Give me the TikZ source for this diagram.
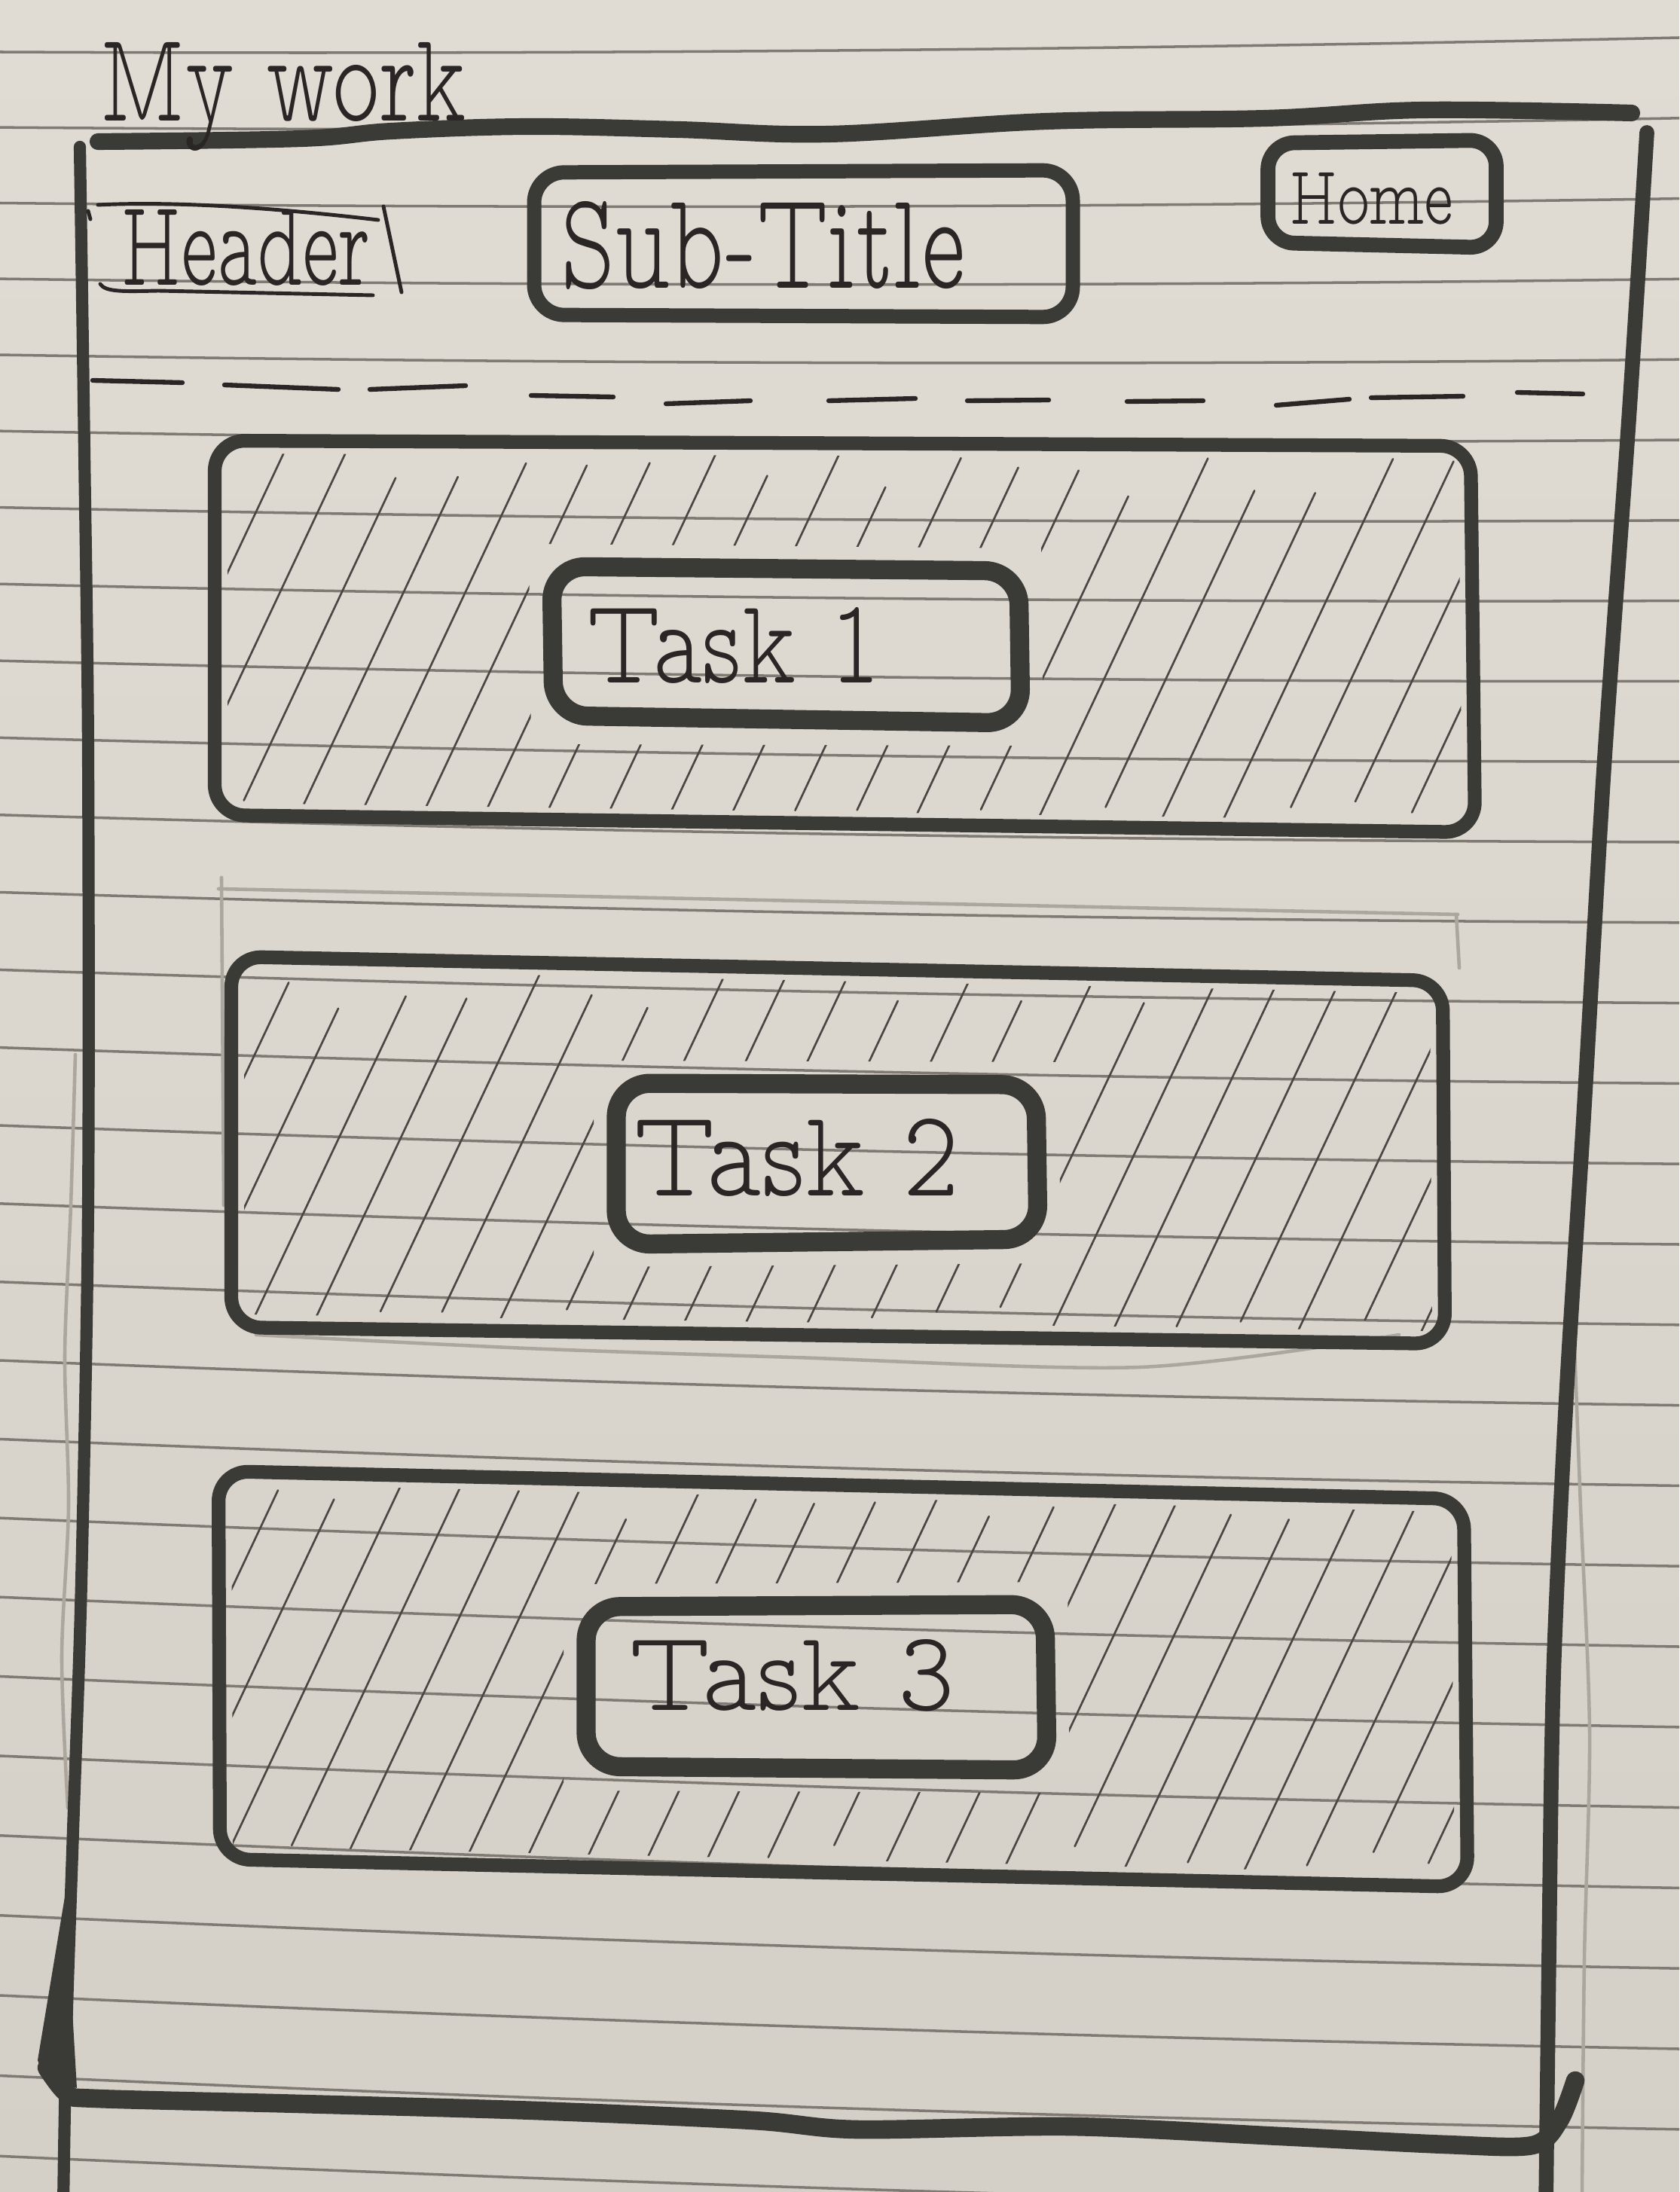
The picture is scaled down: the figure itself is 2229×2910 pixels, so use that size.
\documentclass[tikz,border=0pt]{standalone}
\usepackage{fontspec}
\usepackage{graphicx}
\newfontfamily\hand[Extension=.otf]{lmmonoproplt10-regular}
\definecolor{paperTop}{HTML}{E0DCD4}
\definecolor{paperBot}{HTML}{D5D0C7}
\definecolor{ruledc}{HTML}{7F7A74}
\definecolor{ink}{HTML}{3A3A36}
\definecolor{hatchc}{HTML}{4A4643}
\definecolor{textc}{HTML}{2B2626}
\definecolor{pencilc}{HTML}{ABA69E}
\tikzset{
  pen/.style={draw=ink, line width=5.2pt, line cap=round, line join=round},
  innerpen/.style={draw=ink, line width=7.2pt, line cap=round, line join=round},
  thinpen/.style={draw=textc, line width=1.4pt, line cap=round},
  dashpen/.style={draw=textc, line width=1.8pt, line cap=round},
  hatch/.style={draw=hatchc, line width=0.75pt, line cap=round},
  ruled/.style={draw=ruledc, line width=1pt},
  pencil/.style={draw=pencilc, line width=1.3pt, line cap=round},
  txt/.style={font=\hand, text=textc, inner sep=0pt, anchor=base west}
}
\begin{document}
\begin{tikzpicture}[x=0.01cm,y=-0.01cm]
\pgfmathsetseed{7}
\useasboundingbox (0,0) rectangle (2229,2910);
\shade[top color=paperTop, bottom color=paperBot] (0,0) rectangle (2229,2910);

% ruled lines of the notebook paper
\foreach \k in {0,...,27}{
  \pgfmathsetmacro\yl{69+100*\k+0.128*\k*\k}
  \pgfmathsetmacro\yr{50+106.8*\k}
  \pgfmathsetmacro\ya{\yl*2/3+\yr/3+10}
  \pgfmathsetmacro\yb{\yl/3+\yr*2/3+10}
  \draw[ruled] (0,\yl) .. controls (743,\ya) and (1486,\yb) .. (2229,\yr);
}

% faint pencil guides
\draw[pencil] plot[smooth] coordinates {(100,1400) (94,1600) (86,1800) (91,2000) (82,2200) (90,2400)};
\draw[pencil] plot[smooth] coordinates {(2089,1763) (2098,2000) (2110,2300) (2103,2600) (2100,2910)};
\draw[pencil] (294,1165) -- (297,1600);
\draw[pencil] (290,1180) -- (1935,1214);
\draw[pencil] (1933,1214) -- (1937,1285);
\draw[pencil] plot[smooth] coordinates {(340,1772) (700,1790) (1054,1802) (1513,1815) (1857,1772)};

% hatching, task 1
\begin{scope}
\clip (302,602) -- (1936,608) -- (1941,1090) -- (302,1066) -- cycle
      (702,722) -- (705,988) -- (1385,990) -- (1382,728) -- cycle;
\foreach \i in {0,...,26}{
  \pgfmathsetmacro\sa{rnd*70}
  \pgfmathsetmacro\sb{rnd*70}
  \draw[hatch] ({300+\i*82-0.47*\sa},{590+\sa}) -- ({46+\i*82+0.47*\sb},{1130-\sb});
}
\end{scope}
% hatching, task 2
\begin{scope}
\clip (324,1287) -- (1898,1318) -- (1901,1767) -- (324,1745) -- cycle
      (788,1408) -- (788,1682) -- (1408,1677) -- (1405,1410) -- cycle;
\foreach \i in {0,...,26}{
  \pgfmathsetmacro\sa{rnd*70}
  \pgfmathsetmacro\sb{rnd*70}
  \draw[hatch] ({315+\i*82-0.47*\sa},{1275+\sa}) -- ({65+\i*82+0.47*\sb},{1805-\sb});
}
\end{scope}
% hatching, task 3
\begin{scope}
\clip (307,1970) -- (1926,2007) -- (1931,2488) -- (309,2451) -- cycle
      (748,2103) -- (748,2377) -- (1420,2380) -- (1417,2100) -- cycle;
\foreach \i in {0,...,27}{
  \pgfmathsetmacro\sa{rnd*70}
  \pgfmathsetmacro\sb{rnd*70}
  \draw[hatch] ({300+\i*80-0.47*\sa},{1955+\sa}) -- ({38+\i*80+0.47*\sb},{2512-\sb});
}
\end{scope}

% outer frame
\draw[pen, line width=6.3pt] plot[smooth, tension=0.6] coordinates {(130,188) (400,184) (520,174) (700,168) (900,172) (1100,178) (1390,161) (1680,157) (1890,146) (2166,150)};
\draw[pen, line width=4.6pt] plot[smooth] coordinates {(106,195) (112,600) (117,1000) (117,1600) (108,2100) (97,2430) (88,2700) (84,2930)};
\fill[ink] (104,2410) -- (50,2735) -- (60,2762) -- (102,2772) -- (92,2600) -- cycle;
\draw[pen, line width=7pt] plot[smooth] coordinates {(62,2745) (90,2780) (130,2786) (400,2793) (711,2802) (1000,2815) (1138,2827) (1422,2823) (1700,2836) (1920,2847) (2034,2848) (2070,2815) (2091,2762)};
\draw[pen, line width=5.6pt] plot[smooth] coordinates {(2186,176) (2162,557) (2129,1020) (2102,1484) (2079,1855) (2062,2226) (2056,2597) (2052,2930)};

% title
\node[txt] (mywork) at (133,161) {\resizebox{4.85cm}{1.04cm}{My work}};

% header
\node[txt] (header) at (161,379) {\resizebox{3.30cm}{1.0cm}{Header}};
\draw[thinpen] (130,272) .. controls (250,266) and (400,280) .. (502,292);
\draw[thinpen] (133,377) .. controls (140,388) and (165,387) .. (210,386) -- (495,392);
\draw[thinpen] (509,274) -- (533,388);
\draw[thinpen] (117,280) -- (120,291);

% sub-title box
\draw[pen, line width=5.4pt, rounded corners=0.4cm] (709,229) -- (1424,226) -- (1424,421) -- (709,418) -- cycle;
\node[txt] (subtitle) at (744,383) {\resizebox{5.36cm}{1.15cm}{Sub-Title}};

% home box
\draw[pen, line width=5.6pt, rounded corners=0.35cm] (1683,190) -- (1986,186) -- (1986,329) -- (1683,322) -- cycle;
\node[txt] (home) at (1712,298) {\resizebox{2.16cm}{0.68cm}{Home}};

% dashed separator
\foreach \xa/\ya/\xb/\yb in {123/505/242/508, 298/511/449/517, 491/517/618/512, 705/525/814/527, 884/536/996/532, 1100/532/1215/529, 1284/532/1392/531, 1496/533/1597/532, 1694/538/1791/530, 1820/528/1942/526, 2014/521/2101/523}
  \draw[dashpen] (\xa,\ya) -- (\xb,\yb);

% task 1
\draw[pen, rounded corners=0.4cm] (285,585) -- (1952,592) -- (1958,1105) -- (285,1082) -- cycle;
\draw[innerpen, rounded corners=0.45cm] (732,752) -- (1352,758) -- (1355,960) -- (735,950) -- cycle;
\node[txt] (task1) at (779,906) {\resizebox{3.89cm}{1.0cm}{Task 1}};

% task 2
\draw[pen, rounded corners=0.4cm] (307,1270) -- (1915,1302) -- (1918,1784) -- (307,1762) -- cycle;
\draw[innerpen, rounded corners=0.45cm] (818,1438) -- (1375,1440) -- (1378,1645) -- (818,1652) -- cycle;
\node[txt] (task2) at (841,1587) {\resizebox{4.31cm}{1.02cm}{Task 2}};

% task 3
\draw[pen, rounded corners=0.4cm] (290,1953) -- (1943,1990) -- (1948,2505) -- (292,2468) -- cycle;
\draw[innerpen, rounded corners=0.45cm] (778,2133) -- (1387,2130) -- (1390,2350) -- (778,2345) -- cycle;
\node[txt] (task3) at (835,2270) {\resizebox{4.31cm}{0.94cm}{Task 3}};
\end{tikzpicture}
\end{document}
